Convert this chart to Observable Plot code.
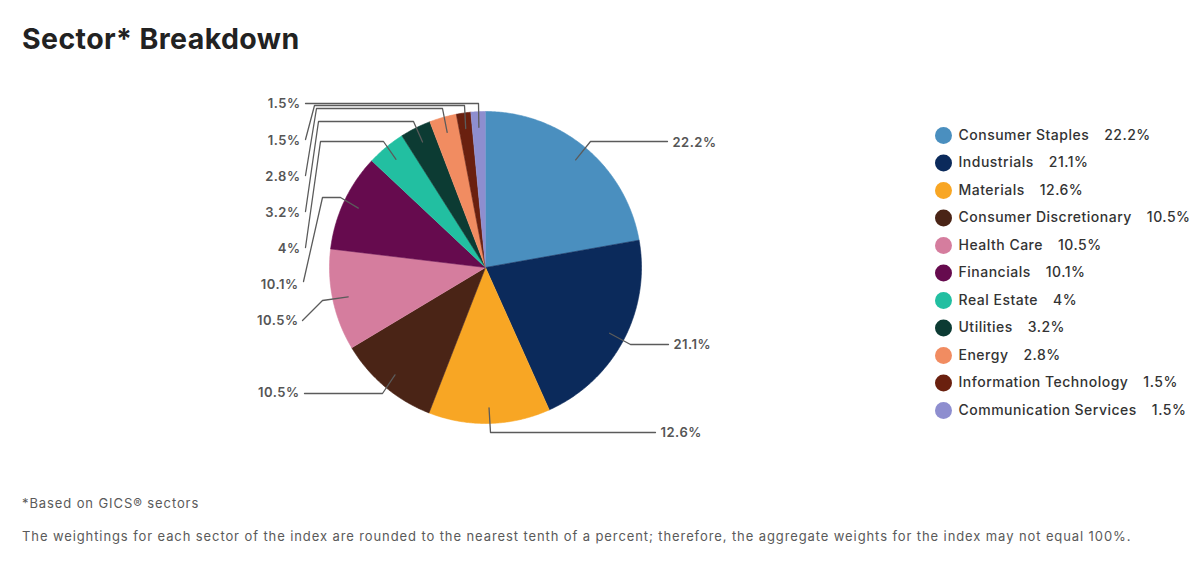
<!DOCTYPE html>
<html>
<head>
<meta charset="utf-8">
<script src="https://cdn.jsdelivr.net/npm/d3@7"></script>
<script src="https://cdn.jsdelivr.net/npm/@observablehq/plot@0.6"></script>
<style>
  html, body { margin: 0; padding: 0; background: #fff; }
  body { width: 1200px; height: 581px; overflow: hidden; position: relative; font-family: Inter, "Noto Sans", sans-serif; }
  #title { position: absolute; left: 22px; top: 21px; font-size: 28.5px; font-weight: 700; color: #222; letter-spacing: 0.4px; }
  #chart { position: absolute; left: 0; top: 80px; }
  .note { position: absolute; left: 22px; font-size: 13px; color: #5a5a5a; white-space: nowrap; letter-spacing: 0.9px; }
</style>
</head>
<body>
<div id="title">Sector* Breakdown</div>
<div id="chart"></div>
<div class="note" style="top:495px">*Based on GICS® sectors</div>
<div class="note" style="top:528px">The weightings for each sector of the index are rounded to the nearest tenth of a percent; therefore, the aggregate weights for the index may not equal 100%.</div>
<script>
// ---- data ----
const sectors = [
  "Consumer Staples", "Industrials", "Materials", "Consumer Discretionary",
  "Health Care", "Financials", "Real Estate", "Utilities", "Energy",
  "Information Technology", "Communication Services"
];
const weights = [22.2, 21.1, 12.6, 10.5, 10.5, 10.1, 4, 3.2, 2.8, 1.5, 1.5];
const colors = [
  "#4a8fbf", "#0b2a5b", "#f8a624", "#4a2416", "#d57d9e", "#660b4e",
  "#22bfa1", "#0c3b33", "#f18c61", "#6a200f", "#8e8ecf"
];

// ---- layout (annotation geometry, svg pixel units) ----
const W = 1200, H = 400;
const pieCenter = [485, 187], pieRadius = 156;
// leader-line bends and label anchors, per sector
const leaderLayout = [
  {bends: [[590, 61], [667, 61]], label: [672, 62], anchor: "start"},
  {bends: [[630, 264], [668, 264]], label: [673, 264], anchor: "start"},
  {bends: [[490, 352], [655, 352]], label: [660, 352], anchor: "start"},
  {bends: [[382, 313], [304, 313]], label: [299, 312], anchor: "end"},
  {bends: [[322, 220], [302, 240]], label: [298, 240], anchor: "end"},
  {bends: [[340, 117], [322, 117], [303, 201]], label: [298, 204], anchor: "end"},
  {bends: [[383, 61], [320, 61], [305, 167]], label: [300, 168], anchor: "end"},
  {bends: [[413, 41], [318, 41], [305, 131]], label: [300, 132], anchor: "end"},
  {bends: [[442, 28], [316, 28], [305, 95]], label: [300, 96], anchor: "end"},
  {bends: [[464, 25], [314, 25], [305, 59]], label: [300, 60], anchor: "end"},
  {bends: [[478, 23], [305, 23]], label: [300, 23], anchor: "end"}
];
const legendX = 943, legendTop = 55, legendStep = 27.5;

// ---- derived ----
const rows = sectors.map((s, i) => ({sector: s, weight: weights[i], i}));
const arcs = d3.pie().sort(null).value(d => d.weight)(rows);
const polar = (a, r) => [pieCenter[0] + r * Math.sin(a), pieCenter[1] - r * Math.cos(a)];

const slicePts = [];
for (const a of arcs) {
  const s = a.data.sector;
  slicePts.push({sector: s, x: pieCenter[0], y: pieCenter[1]});
  const n = Math.max(4, Math.ceil((a.endAngle - a.startAngle) / (Math.PI / 360)));
  for (let k = 0; k <= n; k++) {
    const t = a.startAngle + (a.endAngle - a.startAngle) * k / n;
    const [x, y] = polar(t, pieRadius);
    slicePts.push({sector: s, x, y});
  }
}

const leaderPts = [];
const labels = [];
arcs.forEach((a, i) => {
  const mid = (a.startAngle + a.endAngle) / 2;
  const [sx, sy] = polar(mid, pieRadius * 0.9);
  const L = leaderLayout[i];
  leaderPts.push({id: i, x: sx, y: sy});
  for (const [bx, by] of L.bends) leaderPts.push({id: i, x: bx, y: by});
  labels.push({x: L.label[0], y: L.label[1], anchor: L.anchor, text: `${a.data.weight}%`});
});

const legend = rows.map(d => ({...d, y: legendTop + d.i * legendStep}));

const chart = Plot.plot({
  width: W, height: H,
  margin: 0,
  style: {fontFamily: "Inter, 'Noto Sans', sans-serif", background: "transparent", letterSpacing: "0.5px"},
  x: {domain: [0, W], range: [0, W], axis: null},
  y: {domain: [0, H], range: [0, H], axis: null},
  color: {domain: sectors, range: colors},
  marks: [
    Plot.line(slicePts, {x: "x", y: "y", z: "sector", fill: "sector", stroke: "sector", strokeWidth: 0.6, curve: "linear"}),
    Plot.line(leaderPts, {x: "x", y: "y", z: "id", stroke: "#5b5b5b", strokeWidth: 1.3, curve: "linear"}),
    Plot.text(labels.filter(d => d.anchor === "start"), {x: "x", y: "y", text: "text", textAnchor: "start", fontSize: 13, fontWeight: 600, fill: "#555"}),
    Plot.text(labels.filter(d => d.anchor === "end"), {x: "x", y: "y", text: "text", textAnchor: "end", fontSize: 13, fontWeight: 600, fill: "#555"}),
    Plot.dot(legend, {x: () => legendX, y: "y", r: 8.5, fill: "sector", stroke: "none"}),
    Plot.text(legend, {x: () => legendX + 15, y: "y", text: d => `${d.sector}\u2002\u2002${d.weight}%`, textAnchor: "start", fontSize: 14, fontWeight: 500, fill: "#333"})
  ]
});
document.getElementById("chart").appendChild(chart);
</script>
</body>
</html>
